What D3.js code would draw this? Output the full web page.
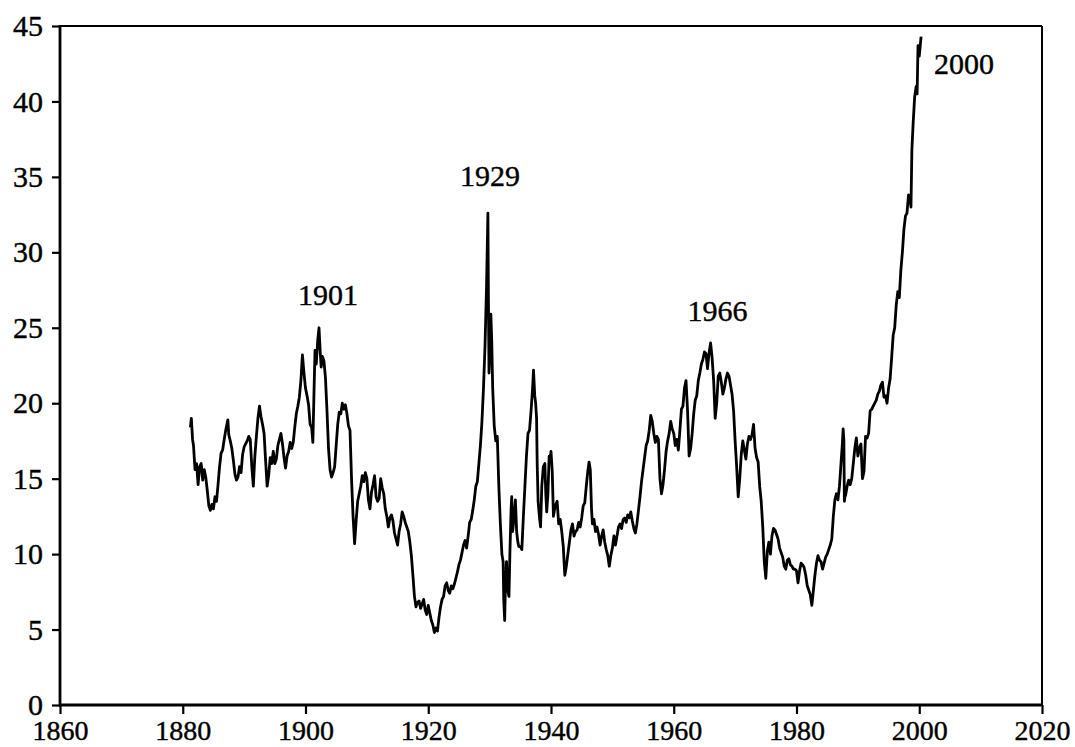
<!DOCTYPE html>
<html>
<head>
<meta charset="utf-8">
<script src="https://cdn.jsdelivr.net/npm/d3@7/dist/d3.min.js"></script>
<style>
  html, body { margin: 0; padding: 0; background: #fff; }
  svg { display: block; }
  text { font-family: "Liberation Serif", "Times New Roman", serif; fill: #000; }
</style>
</head>
<body>
<svg id="chart" width="1075" height="747"></svg>
<script>
// Tick values
const xTicks = [1860, 1880, 1900, 1920, 1940, 1960, 1980, 2000, 2020];
const yTicks = [0, 5, 10, 15, 20, 25, 30, 35, 40, 45];

// Peak annotations
const peakLabels = ["1901", "1929", "1966", "2000"];
const peakYears  = [1902.2, 1929.75, 1966.0, 2000.3];
const peakValues = [25.0, 32.6, 24.0, 44.3];

// Price-earnings ratio : [year, value]
const peSeries = [
[1881.25,18.4],[1881.4,19.0],[1881.6,17.6],[1881.75,17.2],
[1882.0,15.6],[1882.25,16.0],[1882.5,14.6],[1882.75,15.8],
[1883.0,16.0],[1883.25,14.9],[1883.5,15.6],[1883.75,15.1],
[1884.0,14.2],[1884.25,13.2],[1884.5,12.9],[1884.75,13.3],
[1885.0,13.0],[1885.25,13.8],[1885.5,13.5],[1885.75,14.6],
[1886.0,15.8],[1886.25,16.7],[1886.5,16.9],[1886.75,17.6],
[1887.0,18.2],[1887.35,18.9],[1887.5,17.9],[1887.75,17.5],
[1888.0,17.0],[1888.25,16.2],[1888.5,15.3],[1888.75,14.9],
[1889.0,15.1],[1889.25,15.8],[1889.5,15.4],[1889.75,16.6],
[1890.0,17.1],[1890.25,17.3],[1890.5,17.5],[1890.75,17.8],
[1891.0,17.6],[1891.25,15.8],[1891.5,14.5],[1891.75,16.5],
[1892.0,17.8],[1892.25,19.0],[1892.5,19.8],[1892.75,19.1],
[1893.0,18.6],[1893.25,18.0],[1893.5,16.2],[1893.75,14.5],
[1894.0,15.2],[1894.25,16.4],[1894.5,16.0],[1894.75,16.8],
[1895.0,16.0],[1895.25,16.3],[1895.5,17.2],[1895.75,17.6],
[1896.0,18.0],[1896.25,17.3],[1896.5,16.4],[1896.75,15.7],
[1897.0,16.5],[1897.25,16.8],[1897.5,17.4],[1897.75,17.0],
[1898.0,17.4],[1898.25,18.4],[1898.5,19.3],[1898.75,19.8],
[1899.0,20.4],[1899.25,21.5],[1899.5,23.2],[1899.75,22.0],
[1900.0,21.0],[1900.25,20.5],[1900.5,19.9],[1900.75,18.6],
[1901.0,18.4],[1901.2,17.4],[1901.4,21.0],[1901.55,23.5],[1901.75,22.6],
[1902.0,24.2],[1902.2,25.0],[1902.4,23.4],[1902.55,22.4],[1902.75,23.1],
[1903.0,22.8],[1903.25,21.7],[1903.5,19.5],[1903.75,17.0],
[1904.0,15.6],[1904.25,15.1],[1904.5,15.4],[1904.75,15.8],
[1905.0,17.2],[1905.25,18.6],[1905.5,19.4],[1905.75,19.3],
[1906.0,20.0],[1906.25,19.6],[1906.5,19.9],[1906.75,19.3],
[1907.0,18.5],[1907.25,18.2],[1907.5,15.0],[1907.75,12.5],
[1908.0,10.7],[1908.25,12.2],[1908.5,13.5],[1908.75,14.0],
[1909.0,14.5],[1909.25,15.2],[1909.5,14.8],[1909.75,15.4],
[1910.0,15.0],[1910.25,13.6],[1910.5,13.0],[1910.75,14.1],
[1911.0,14.6],[1911.25,15.2],[1911.5,13.8],[1911.75,13.5],
[1912.0,13.7],[1912.25,15.0],[1912.5,14.4],[1912.75,14.0],
[1913.0,13.0],[1913.25,12.5],[1913.5,11.8],[1913.75,12.4],
[1914.0,12.6],[1914.25,12.2],[1914.5,11.4],[1914.75,11.0],
[1915.0,10.6],[1915.25,11.5],[1915.5,12.0],[1915.75,12.8],
[1916.0,12.5],[1916.25,12.1],[1916.5,11.8],[1916.75,11.5],
[1917.0,10.8],[1917.25,9.9],[1917.5,8.6],[1917.75,7.2],
[1918.0,6.5],[1918.25,6.8],[1918.5,6.9],[1918.75,6.4],
[1919.0,6.7],[1919.25,7.0],[1919.5,6.3],[1919.75,6.0],
[1920.0,6.6],[1920.25,6.1],[1920.5,5.6],[1920.75,5.3],
[1921.0,4.8],[1921.25,5.1],[1921.5,4.9],[1921.75,5.8],
[1922.0,6.5],[1922.25,7.0],[1922.5,7.2],[1922.75,7.9],
[1923.0,8.1],[1923.25,7.6],[1923.5,7.4],[1923.75,7.9],
[1924.0,7.7],[1924.25,8.0],[1924.5,8.4],[1924.75,8.8],
[1925.0,9.3],[1925.25,9.6],[1925.5,10.1],[1925.75,10.6],
[1926.0,10.9],[1926.25,10.4],[1926.5,11.2],[1926.75,12.1],
[1927.0,12.3],[1927.25,12.9],[1927.5,13.6],[1927.75,14.5],
[1928.0,14.8],[1928.25,16.0],[1928.5,17.2],[1928.75,18.8],
[1929.0,21.0],[1929.25,23.8],[1929.5,27.8],[1929.6,30.0],[1929.72,32.6],[1929.8,27.0],[1929.9,22.0],
[1930.0,23.0],[1930.2,25.9],[1930.35,24.0],[1930.5,21.0],[1930.75,18.5],
[1931.0,17.5],[1931.25,17.8],[1931.5,14.5],[1931.75,12.0],
[1932.0,10.0],[1932.2,9.5],[1932.3,7.0],[1932.45,5.6],[1932.6,8.5],[1932.75,9.5],[1932.9,8.0],
[1933.0,7.5],[1933.15,7.2],[1933.3,10.0],[1933.5,13.0],[1933.6,13.8],[1933.75,11.5],
[1934.0,12.5],[1934.2,13.6],[1934.4,11.5],[1934.6,10.8],[1934.75,10.5],
[1935.0,10.5],[1935.25,10.3],[1935.5,12.5],[1935.75,14.5],
[1936.0,16.5],[1936.25,18.0],[1936.5,18.2],[1936.75,19.5],
[1937.0,21.0],[1937.15,22.2],[1937.35,20.5],[1937.5,20.0],[1937.65,19.0],[1937.75,16.0],[1937.9,13.5],
[1938.0,13.0],[1938.15,12.3],[1938.3,11.8],[1938.5,14.5],[1938.75,15.8],
[1939.0,16.0],[1939.15,14.0],[1939.3,12.8],[1939.5,14.0],[1939.7,16.5],[1939.85,16.2],
[1940.0,16.8],[1940.2,15.5],[1940.4,12.5],[1940.6,13.0],[1940.8,13.3],
[1941.0,13.5],[1941.25,12.0],[1941.5,12.3],[1941.75,11.5],
[1942.0,10.5],[1942.25,8.6],[1942.5,9.2],[1942.75,10.0],
[1943.0,10.8],[1943.25,11.6],[1943.5,12.0],[1943.75,11.2],
[1944.0,11.5],[1944.25,11.6],[1944.5,12.1],[1944.75,11.8],
[1945.0,12.4],[1945.25,13.2],[1945.5,13.4],[1945.75,14.5],
[1946.0,15.5],[1946.2,16.1],[1946.4,15.6],[1946.6,13.0],[1946.75,12.0],
[1947.0,12.3],[1947.25,11.5],[1947.5,11.8],[1947.75,11.3],
[1948.0,10.6],[1948.25,11.2],[1948.5,11.6],[1948.75,10.8],
[1949.0,10.3],[1949.25,9.9],[1949.5,9.2],[1949.75,9.9],
[1950.0,10.4],[1950.25,11.2],[1950.5,10.6],[1950.75,11.2],
[1951.0,11.8],[1951.25,12.0],[1951.5,11.7],[1951.75,12.3],
[1952.0,12.4],[1952.25,12.1],[1952.5,12.6],[1952.75,12.4],
[1953.0,12.8],[1953.25,12.2],[1953.5,11.7],[1953.75,11.4],
[1954.0,12.0],[1954.25,12.9],[1954.5,13.8],[1954.75,14.8],
[1955.0,15.6],[1955.25,16.4],[1955.5,17.2],[1955.75,17.5],
[1956.0,18.2],[1956.25,19.2],[1956.5,18.8],[1956.75,18.0],
[1957.0,17.4],[1957.25,17.8],[1957.5,17.6],[1957.75,15.0],
[1958.0,14.0],[1958.25,14.6],[1958.5,15.6],[1958.75,16.8],
[1959.0,17.5],[1959.25,18.0],[1959.5,18.8],[1959.75,18.3],
[1960.0,18.0],[1960.25,17.2],[1960.5,17.6],[1960.75,16.9],
[1961.0,18.2],[1961.25,19.6],[1961.5,19.8],[1961.75,21.0],
[1962.0,21.5],[1962.25,19.5],[1962.5,16.5],[1962.75,17.0],
[1963.0,18.0],[1963.25,19.3],[1963.5,20.2],[1963.75,20.5],
[1964.0,21.5],[1964.25,22.0],[1964.5,22.6],[1964.75,22.9],
[1965.0,23.4],[1965.25,23.3],[1965.5,22.3],[1965.75,23.3],
[1966.0,24.0],[1966.25,23.0],[1966.5,21.5],[1966.75,19.0],
[1967.0,20.0],[1967.25,21.8],[1967.5,22.0],[1967.75,21.4],
[1968.0,20.6],[1968.25,21.0],[1968.5,21.6],[1968.75,22.0],
[1969.0,21.8],[1969.25,21.2],[1969.5,20.6],[1969.75,19.5],
[1970.0,17.5],[1970.25,15.8],[1970.5,13.8],[1970.75,15.0],
[1971.0,16.6],[1971.25,17.5],[1971.5,16.9],[1971.75,16.3],
[1972.0,17.3],[1972.25,17.8],[1972.5,17.6],[1972.75,17.9],
[1973.0,18.6],[1973.25,17.0],[1973.5,16.4],[1973.75,16.1],
[1974.0,14.5],[1974.25,13.5],[1974.5,11.8],[1974.75,9.5],
[1975.0,8.4],[1975.25,10.2],[1975.5,10.8],[1975.75,10.0],
[1976.0,11.2],[1976.25,11.7],[1976.5,11.6],[1976.75,11.3],
[1977.0,11.0],[1977.25,10.4],[1977.5,10.1],[1977.75,9.8],
[1978.0,9.2],[1978.25,9.0],[1978.5,9.6],[1978.75,9.7],
[1979.0,9.3],[1979.25,9.2],[1979.5,9.0],[1979.75,9.0],
[1980.0,8.9],[1980.25,8.1],[1980.5,8.9],[1980.75,9.4],
[1981.0,9.3],[1981.25,9.1],[1981.5,8.6],[1981.75,7.9],
[1982.0,7.6],[1982.25,7.3],[1982.5,6.6],[1982.75,7.6],
[1983.0,8.6],[1983.25,9.4],[1983.5,9.9],[1983.75,9.6],
[1984.0,9.5],[1984.25,9.0],[1984.5,9.4],[1984.75,9.8],
[1985.0,10.0],[1985.25,10.3],[1985.5,10.6],[1985.75,11.0],
[1986.0,12.5],[1986.25,13.6],[1986.5,14.0],[1986.75,13.6],
[1987.0,14.5],[1987.25,16.0],[1987.45,17.2],[1987.6,18.3],[1987.72,17.5],[1987.8,13.5],[1987.9,13.8],
[1988.0,13.9],[1988.25,14.5],[1988.5,14.9],[1988.75,14.6],
[1989.0,15.0],[1989.25,16.0],[1989.5,17.0],[1989.75,17.7],
[1990.0,16.5],[1990.25,17.0],[1990.5,17.3],[1990.75,15.0],
[1991.0,15.5],[1991.25,17.8],[1991.5,17.7],[1991.75,18.0],
[1992.0,19.5],[1992.25,19.6],[1992.5,19.8],[1992.75,20.0],
[1993.0,20.2],[1993.25,20.6],[1993.5,20.8],[1993.75,21.2],
[1994.0,21.4],[1994.25,20.4],[1994.5,20.5],[1994.75,20.0],
[1995.0,21.0],[1995.25,21.6],[1995.5,23.0],[1995.75,24.5],
[1996.0,25.0],[1996.25,26.5],[1996.5,27.4],[1996.75,27.0],
[1997.0,28.8],[1997.25,30.0],[1997.5,31.5],[1997.75,32.4],
[1998.0,32.6],[1998.25,33.8],[1998.5,33.7],[1998.65,33.0],[1998.8,36.8],
[1999.0,38.5],[1999.25,40.3],[1999.5,41.0],[1999.65,40.5],[1999.8,43.7],
[2000.0,43.0],[2000.3,44.3]
];

(function () {
  const svg = d3.select("#chart");
  const mLeft = 60, mRight = 1042, mTop = 26, mBottom = 705;

  const x = d3.scaleLinear().domain([1860, 2020]).range([mLeft, mRight]);
  const y = d3.scaleLinear().domain([0, 45]).range([mBottom, mTop]);

  const serif = '"Liberation Serif", "Times New Roman", serif';

  // Axes
  const yAxis = d3.axisLeft(y).tickValues(yTicks).tickSize(8).tickPadding(9).tickFormat(d3.format("d"));
  const xAxis = d3.axisBottom(x).tickValues(xTicks).tickSize(9).tickPadding(6).tickFormat(d3.format("d"));

  const gy = svg.append("g").attr("transform", `translate(${mLeft},0)`).call(yAxis);
  const gx = svg.append("g").attr("transform", `translate(0,${mBottom})`).call(xAxis);
  [gy, gx].forEach(g => {
    g.select(".domain").remove();
    g.selectAll(".tick line").attr("stroke", "#000").attr("stroke-width", 2.2);
    g.selectAll(".tick text")
      .style("font-family", serif)
      .attr("fill", "#000")
      .attr("stroke", "#000")
      .attr("stroke-width", 0.4);
  });
  gy.selectAll(".tick text").style("font-size", "30px");
  gx.selectAll(".tick text").style("font-size", "28px");

  // Frame
  svg.append("line").attr("x1", mLeft).attr("x2", mRight).attr("y1", mTop).attr("y2", mTop)
    .attr("stroke", "#000").attr("stroke-width", 2.2);
  svg.append("line").attr("x1", mRight).attr("x2", mRight).attr("y1", mTop).attr("y2", mBottom)
    .attr("stroke", "#000").attr("stroke-width", 2);
  svg.append("line").attr("x1", mLeft).attr("x2", mLeft).attr("y1", mTop - 1).attr("y2", mBottom + 1.5)
    .attr("stroke", "#000").attr("stroke-width", 2.8);
  svg.append("line").attr("x1", mLeft - 1).attr("x2", mRight + 1).attr("y1", mBottom).attr("y2", mBottom)
    .attr("stroke", "#000").attr("stroke-width", 2.8);

  // Series line
  const line = d3.line().x(d => x(d[0])).y(d => y(d[1]));
  svg.append("path").datum(peSeries)
    .attr("d", line)
    .attr("fill", "none")
    .attr("stroke", "#000")
    .attr("stroke-width", 2.8)
    .attr("stroke-linejoin", "round");

  // Annotations (positioned relative to the peaks through the scales)
  const annot = peakLabels.map((t, i) => ({ t, yr: peakYears[i], v: peakValues[i] }));
  const offsets = {
    "1901": { dx: 9, dy: -23, anchor: "middle" },
    "1929": { dx: 2, dy: -27, anchor: "middle" },
    "1966": { dx: 7, dy: -22, anchor: "middle" },
    "2000": { dx: 13, dy: 37, anchor: "start" }
  };
  svg.selectAll(".peak").data(annot).join("text")
    .attr("class", "peak")
    .attr("x", d => x(d.yr) + offsets[d.t].dx)
    .attr("y", d => y(d.v) + offsets[d.t].dy)
    .attr("text-anchor", d => offsets[d.t].anchor)
    .attr("stroke", "#000")
    .attr("stroke-width", 0.4)
    .style("font-size", "30px")
    .text(d => d.t);
})();
</script>
</body>
</html>
